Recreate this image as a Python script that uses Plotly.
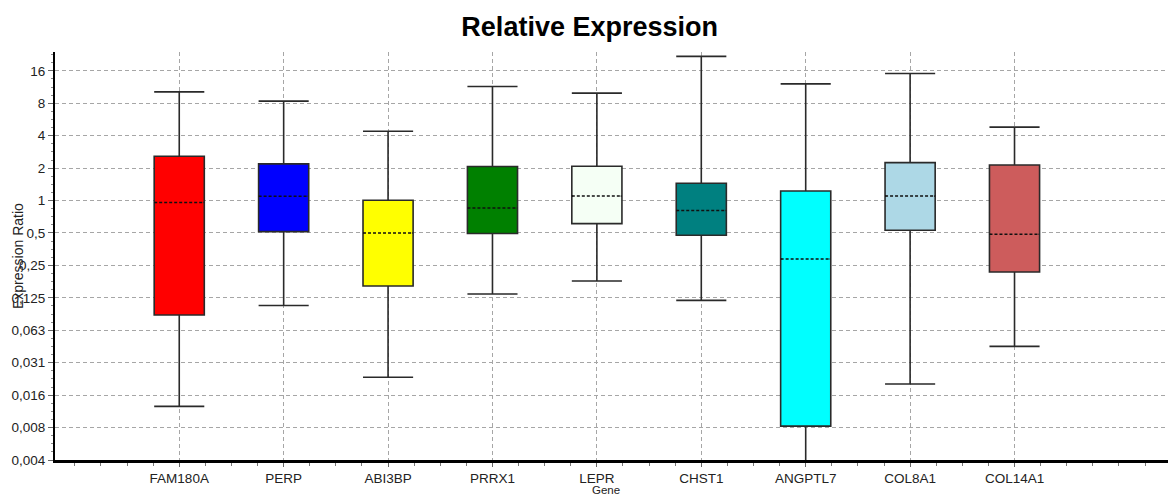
import math
import plotly.graph_objects as go

# ---- data ----
genes = ["FAM180A", "PERP", "ABI3BP", "PRRX1", "LEPR", "CHST1", "ANGPTL7", "COL8A1", "COL14A1"]
upper_whisker = [10.2, 8.37, 4.40, 11.46, 9.93, 21.8, 12.1, 15.1, 4.80]
q3_values = [2.58, 2.19, 1.006, 2.07, 2.08, 1.448, 1.228, 2.25, 2.14]
median_values = [0.958, 1.097, 0.50, 0.854, 1.10, 0.807, 0.287, 1.10, 0.487]
q1_values = [0.0866, 0.515, 0.161, 0.494, 0.611, 0.476, 0.00805, 0.53, 0.217]
lower_whisker = [0.0123, 0.106, 0.0229, 0.1357, 0.179, 0.1185, 0.0035, 0.0198, 0.0443]
box_colors = ["#FF0000", "#0000FF", "#FFFF00", "#008000", "#F5FFF5",
              "#008080", "#00FFFF", "#ADD8E6", "#CD5C5C"]
ytick_vals = [16, 8, 4, 2, 1, 0.5, 0.25, 0.125, 0.0625, 0.03125,
              0.015625, 0.0078125, 0.00390625]
ytick_text = ["16", "8", "4", "2", "1", "0,5", "0,25", "0,125", "0,063",
              "0,031", "0,016", "0,008", "0,004"]

BOX_W = 0.48
FONT = "Liberation Sans, Arial, sans-serif"
positions = list(range(len(genes)))

fig = go.Figure()

for i, g in enumerate(genes):
    fig.add_trace(go.Box(
        x=[positions[i]], name=g,
        q1=[q1_values[i]], median=[median_values[i]], q3=[q3_values[i]],
        lowerfence=[lower_whisker[i]], upperfence=[upper_whisker[i]],
        width=BOX_W, whiskerwidth=1,
        fillcolor=box_colors[i],
        line=dict(color="#2a2a2a", width=1.6),
        boxpoints=False, hoverinfo="skip", showlegend=False,
    ))

# cover solid median drawn by plotly, then draw a dashed median
for i, g in enumerate(genes):
    fig.add_trace(go.Scatter(
        x=[positions[i] - BOX_W / 2 + 0.012, positions[i] + BOX_W / 2 - 0.012],
        y=[median_values[i], median_values[i]],
        mode="lines", line=dict(color=box_colors[i], width=3.2),
        hoverinfo="skip", showlegend=False,
    ))

mx, my = [], []
for i, g in enumerate(genes):
    mx += [positions[i] - BOX_W / 2, positions[i] + BOX_W / 2, None]
    my += [median_values[i], median_values[i], None]
fig.add_trace(go.Scatter(
    x=mx, y=my, mode="lines",
    line=dict(color="#111111", width=1.5, dash="3px,2px"),
    hoverinfo="skip", showlegend=False,
))

# minor y ticks (quarter doublings)
minor_y = []
for k in range(-8, 5):
    for j in (1, 2, 3):
        minor_y.append(2 ** (k + j / 4))

grid = dict(showgrid=True, gridcolor="#A6A6A6", gridwidth=1, griddash="4px,3px")

fig.update_layout(
    width=1170, height=498,
    margin=dict(l=55, r=2, t=52, b=38),
    paper_bgcolor="white", plot_bgcolor="white",
    font=dict(family=FONT, size=13.5, color="#222222"),
    title=dict(text="<b>Relative Expression</b>", x=0.504, xref="container",
               xanchor="center", y=1 - 27 / 498, yref="container", yanchor="middle",
               font=dict(family=FONT, size=27, color="#000000")),
    showlegend=False,
    xaxis=dict(
        range=[-1.19, 9.47], tickmode="array", tickvals=positions, ticktext=genes,
        showline=True, linecolor="#000000", linewidth=3,
        ticks="outside", ticklen=4, tickcolor="#666666",
        minor=dict(dtick=0.25, tick0=0, ticks="outside", ticklen=3,
                   tickcolor="#777777", showgrid=False),
        tickfont=dict(size=13.5), zeroline=False, **grid,
    ),
    yaxis=dict(
        type="log",
        range=[math.log10(2 ** -8), math.log10(2 ** 4.58)],
        tickmode="array", tickvals=ytick_vals, ticktext=ytick_text,
        showline=True, linecolor="#000000", linewidth=2,
        ticks="outside", ticklen=5, tickcolor="#666666",
        minor=dict(tickmode="array", tickvals=minor_y, ticks="outside",
                   ticklen=2, tickcolor="#888888", showgrid=False),
        tickfont=dict(size=13.5), zeroline=False, **grid,
    ),
    annotations=[
        dict(text="Expression Ratio", xref="paper", yref="paper",
             x=(18 - 55) / 1113, y=0.5, textangle=-90, showarrow=False,
             xanchor="center", yanchor="middle", font=dict(size=14, color="#222222")),
        dict(text="Gene", xref="paper", yref="paper",
             x=(606 - 55) / 1113, y=-(483 - 460) / 408, showarrow=False,
             xanchor="center", yanchor="top", borderpad=0,
             font=dict(size=11.5, color="#222222")),
    ],
)

fig.write_html("out.html", config={"displayModeBar": False},
               post_script="document.body.style.margin='0';document.body.style.overflow='hidden';")
